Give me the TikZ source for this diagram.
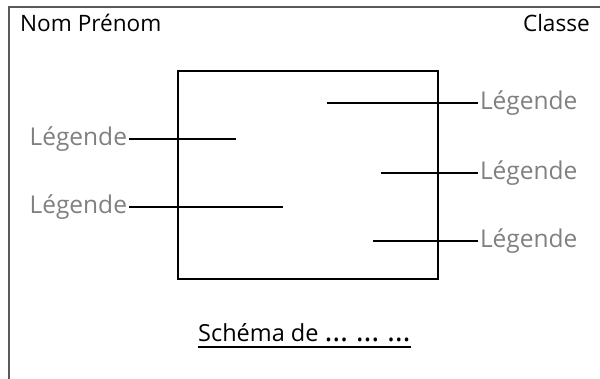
\documentclass[tikz,border=0pt]{standalone}
\usepackage{fontspec}
\setmainfont{Open Sans}
\definecolor{legendgray}{RGB}{128,128,128}
\definecolor{framegray}{RGB}{90,90,90}

\begin{document}
\begin{tikzpicture}[x=1pt,y=-1pt,
    legende/.style={text=legendgray, font=\fontsize{24.5}{28}\selectfont, inner sep=0pt, outer xsep=2pt},
    entete/.style={font=\fontsize{22.6}{26}\selectfont, inner sep=0pt},
    trait/.style={line width=1.3pt}]

    \useasboundingbox (0,0) rectangle (600,379);
    \draw[framegray, line width=1.5pt] (9,385) -- (9,7) -- (610,7);
    \draw[line width=1.5pt] (178,71) rectangle (438,279);

    \node[entete, anchor=base west] (nom) at (20,32) {Nom Prénom};
    \node[entete, anchor=base east] (classe) at (590,32) {Classe};

    \node[legende, anchor=east] (gauche1) at (129,139) {Légende};
    \node[legende, anchor=east] (gauche2) at (129,207) {Légende};
    \node[legende, anchor=west] (droite1) at (478,103) {Légende};
    \node[legende, anchor=west] (droite2) at (478,173) {Légende};
    \node[legende, anchor=west] (droite3) at (478,241) {Légende};

    \coordinate (g1) at (236,139);
    \coordinate (g2) at (283,207);
    \coordinate (d1) at (327,103);
    \coordinate (d2) at (381,173);
    \coordinate (d3) at (373,241);

    \foreach \n/\p in {gauche1/g1, gauche2/g2, droite1/d1, droite2/d2, droite3/d3}
        \draw[trait] (\n) -- (\p);

    \node[font=\fontsize{23.5}{27}\selectfont, inner sep=0pt, anchor=base west] (schema) at (198,342)
        {Schéma de {\fontsize{30}{30}\selectfont … … …}};
    \draw[trait] ([yshift=-5pt]schema.base west) -- ([yshift=-5pt]schema.base east);

\end{tikzpicture}
\end{document}
